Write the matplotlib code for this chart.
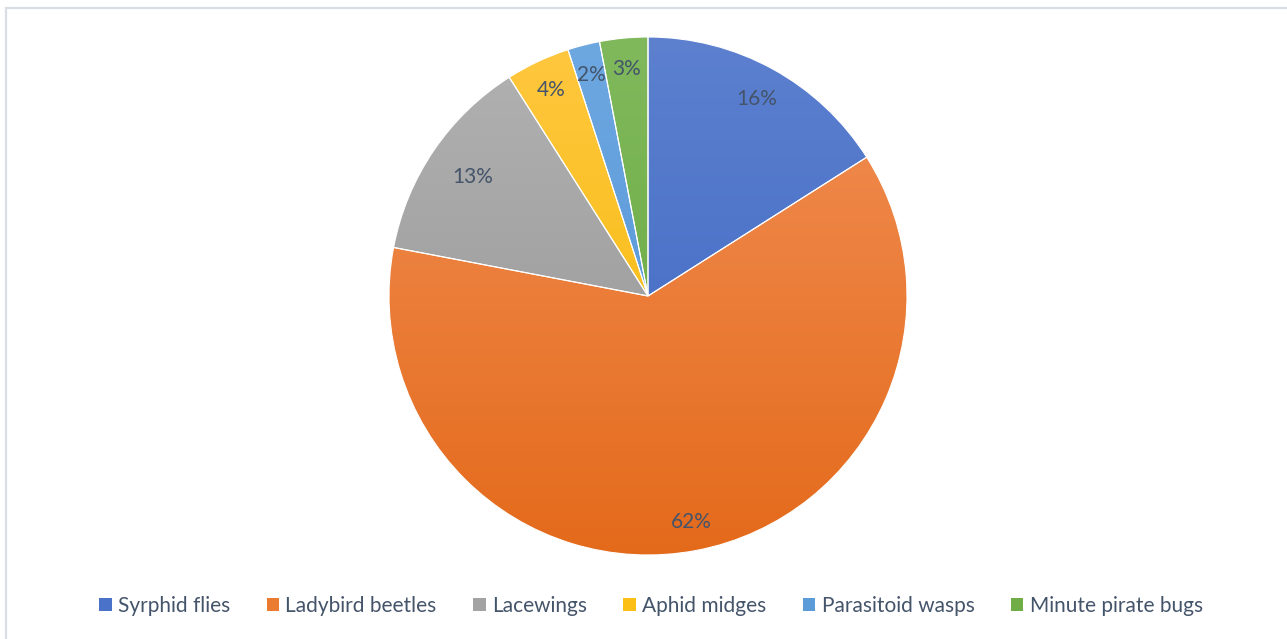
import numpy as np
import matplotlib
matplotlib.use("Agg")
import matplotlib.pyplot as plt
from matplotlib.colors import LinearSegmentedColormap
from matplotlib.patches import Rectangle

# natural enemy counts, share of total (%)
groups = ["Syrphid flies", "Ladybird beetles", "Lacewings",
          "Aphid midges", "Parasitoid wasps", "Minute pirate bugs"]
shares = [16, 62, 13, 4, 2, 3]

# gradient colours: top -> bottom
top_colors = ["#5d80cf", "#f29057", "#b2b2b2", "#ffc73f", "#6ea8e1", "#80b95c"]
bottom_colors = ["#3a66c2", "#e46a1b", "#929292", "#f4b800", "#4c8fd4", "#66a63a"]
legend_colors = ["#4a72c8", "#ec7b32", "#a3a3a3", "#fcbf18", "#5b9bd8", "#70ad47"]
label_dist = [0.87, 0.89, 0.82, 0.88, 0.88, 0.88]

text_color = "#44546a"
plt.rcParams["font.family"] = ["Lato", "DejaVu Sans"]

W, H = 1287, 639
fig = plt.figure(figsize=(W / 100, H / 100), dpi=100)

# chart frame
fig.patches.append(Rectangle((6 / W, -0.5), 2.0, 1.5 - 8 / H, transform=fig.transFigure,
                             fill=False, edgecolor="#dadee4", linewidth=1.6))

cx, cy, r = 648, 296, 259
ax = fig.add_axes([(cx - r) / W, 1 - (cy + r) / H, 2 * r / W, 2 * r / H])

wedges, _ = ax.pie(shares, startangle=90, counterclock=False, radius=1,
                   wedgeprops=dict(edgecolor="white", linewidth=0.8))

grad = np.linspace(0, 1, 256).reshape(-1, 1)
for w, c0, c1 in zip(wedges, top_colors, bottom_colors):
    w.set_facecolor("none")
    cmap = LinearSegmentedColormap.from_list("g", [c0, c1])
    im = ax.imshow(grad, cmap=cmap, extent=[-1, 1, -1, 1], origin="upper",
                   aspect="auto", zorder=0.5)
    im.set_clip_path(w)

# percentage labels
for w, s, d in zip(wedges, shares, label_dist):
    ang = np.deg2rad((w.theta1 + w.theta2) / 2)
    ax.text(d * np.cos(ang), d * np.sin(ang), f"{s}%", ha="center", va="center",
            fontsize=15, color=text_color)

ax.set_xlim(-1, 1)
ax.set_ylim(-1, 1)
ax.set_aspect("equal")
ax.axis("off")

handles = [Rectangle((0, 0), 1, 1, facecolor=c, edgecolor="none") for c in legend_colors]
fig.legend(handles, groups, loc="center", bbox_to_anchor=(651 / W, 1 - 606 / H),
           ncol=6, frameon=False, fontsize=15, labelcolor=text_color,
           handlelength=0.6, handleheight=0.6, handletextpad=0.3, columnspacing=1.75)

fig.savefig("out.png", dpi=100, facecolor="white")
